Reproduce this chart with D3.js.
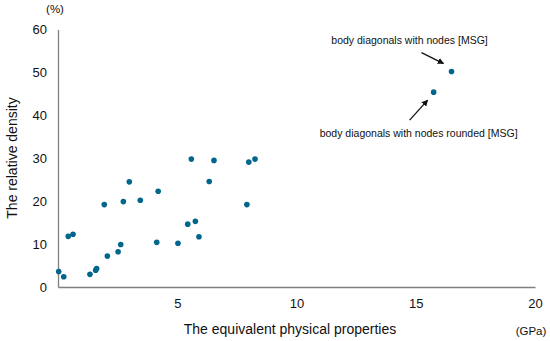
<!DOCTYPE html>
<html>
<head>
<meta charset="utf-8">
<script src="https://cdn.jsdelivr.net/npm/d3@7"></script>
<style>
  body { margin: 0; background: #fff; }
  svg text { font-family: "Liberation Sans", Arial, sans-serif; fill: #111; }
</style>
</head>
<body>
<div id="chart"></div>
<script>
// data
var modulus = [0.03, 0.24, 0.43, 0.63, 1.34, 1.58, 1.62, 1.94, 2.07, 2.52, 2.63, 2.74, 2.99, 3.45,
  4.14, 4.2, 5.03, 5.44, 5.59, 5.76, 5.91, 6.34, 6.54, 7.92, 8.0, 8.26, 15.75, 16.5];
var density = [3.6, 2.4, 11.8, 12.3, 2.95, 3.9, 4.3, 19.2, 7.2, 8.2, 9.9, 19.9, 24.5, 20.2,
  10.4, 22.3, 10.2, 14.65, 29.8, 15.3, 11.7, 24.6, 29.5, 19.2, 29.1, 29.8, 45.4, 50.2];
var xTicks = [5, 10, 15, 20];
var yTicks = [0, 10, 20, 30, 40, 50, 60];
var notes = ["body diagonals with nodes [MSG]", "body diagonals with nodes rounded [MSG]"];

var svgWidth = 550, svgHeight = 341;
var margin = {top: 29.5, right: 15, bottom: 54, left: 58};
var width = svgWidth - margin.left - margin.right;
var height = svgHeight - margin.top - margin.bottom;

var svg = d3.select("#chart").append("svg")
  .attr("width", svgWidth)
  .attr("height", svgHeight);

var defs = svg.append("defs");
defs.append("marker")
  .attr("id", "head")
  .attr("viewBox", "0 0 10 10")
  .attr("refX", 9).attr("refY", 5)
  .attr("markerWidth", 5).attr("markerHeight", 5)
  .attr("orient", "auto")
  .append("path")
  .attr("d", "M0,0 L10,5 L0,10 Z")
  .attr("fill", "#111");

var g = svg.append("g")
  .attr("transform", `translate(${margin.left}, ${margin.top})`);

var x = d3.scaleLinear().domain([0, 20]).range([0, width]);
var y = d3.scaleLinear().domain([0, 60]).range([height, 0]);

// axes: no tick marks, grey lines
var xAxis = g.append("g")
  .attr("transform", `translate(0, ${height})`)
  .call(d3.axisBottom(x).tickValues(xTicks).tickSize(0).tickPadding(12));
var yAxis = g.append("g")
  .call(d3.axisLeft(y).tickValues(yTicks).tickSize(0).tickPadding(11));

[xAxis, yAxis].forEach(function(ax) {
  ax.select(".domain").attr("stroke", "#808080").attr("stroke-width", 1.3);
  ax.selectAll("text")
    .attr("font-family", "Liberation Sans, Arial, sans-serif")
    .attr("font-size", "13px")
    .attr("fill", "#111");
});

// points
var pts = modulus.map(function(v, i) { return {x: v, y: density[i]}; });
g.selectAll("circle")
  .data(pts)
  .enter()
  .append("circle")
  .attr("cx", d => x(d.x))
  .attr("cy", d => y(d.y))
  .attr("r", 2.8)
  .attr("fill", "#00668c");

// annotations for the two MSG points
var hiPt = pts[27], loPt = pts[26];
g.append("text")
  .attr("x", x(hiPt.x) - 42)
  .attr("y", y(hiPt.y) - 28)
  .attr("text-anchor", "middle")
  .attr("font-size", "10.5px")
  .text(notes[0]);
g.append("line")
  .attr("x1", x(hiPt.x) - 30).attr("y1", y(hiPt.y) - 19)
  .attr("x2", x(hiPt.x) - 8).attr("y2", y(hiPt.y) - 8)
  .attr("stroke", "#111").attr("stroke-width", 1.3)
  .attr("marker-end", "url(#head)");

g.append("text")
  .attr("x", x(loPt.x) - 15)
  .attr("y", y(loPt.y) + 45)
  .attr("text-anchor", "middle")
  .attr("font-size", "10.5px")
  .text(notes[1]);
g.append("line")
  .attr("x1", x(loPt.x) - 24).attr("y1", y(loPt.y) + 28)
  .attr("x2", x(loPt.x) - 6).attr("y2", y(loPt.y) + 8)
  .attr("stroke", "#111").attr("stroke-width", 1.3)
  .attr("marker-end", "url(#head)");

// axis titles and units
svg.append("text")
  .attr("x", 55).attr("y", 13)
  .attr("text-anchor", "middle")
  .attr("font-size", "11.5px")
  .text("(%)");

svg.append("text")
  .attr("x", 531).attr("y", 335)
  .attr("text-anchor", "middle")
  .attr("font-size", "11.5px")
  .text("(GPa)");

svg.append("text")
  .attr("x", 290).attr("y", 334)
  .attr("text-anchor", "middle")
  .attr("font-size", "14px")
  .text("The equivalent physical properties");

svg.append("text")
  .attr("transform", "rotate(-90)")
  .attr("x", -158).attr("y", 17)
  .attr("text-anchor", "middle")
  .attr("font-size", "14px")
  .text("The relative density");
</script>
</body>
</html>
